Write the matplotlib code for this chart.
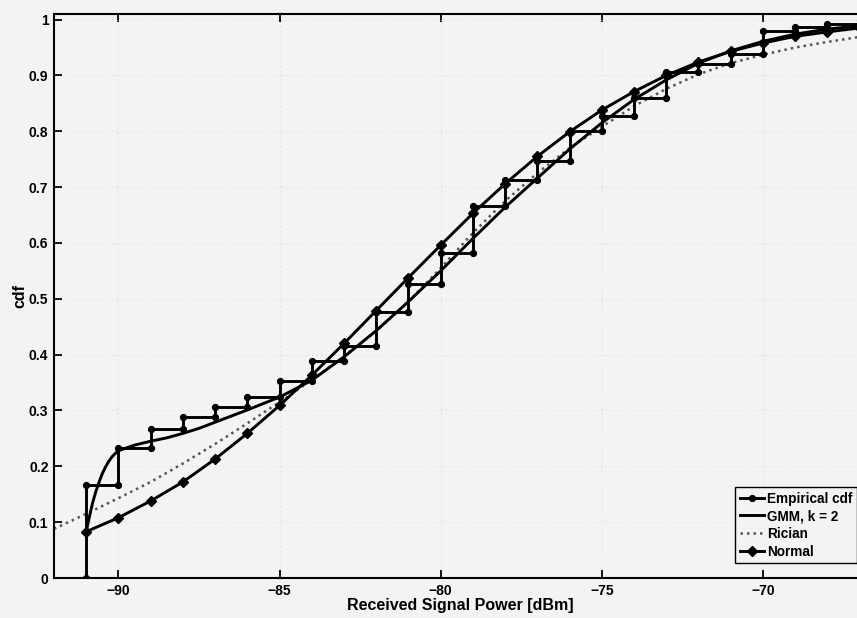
import numpy as np
import matplotlib
matplotlib.use("Agg")
import matplotlib.pyplot as plt

# Empirical cdf: jump positions (dBm) and the cdf level reached at each jump
emp_x = [-91, -90, -89, -88, -87, -86, -85, -84, -83, -82, -81, -80, -79,
         -78, -77, -76, -75, -74, -73, -72, -71, -70, -69, -68, -67]
emp_level = [0.167, 0.232, 0.267, 0.288, 0.306, 0.325, 0.352, 0.388, 0.416,
             0.476, 0.527, 0.582, 0.666, 0.713, 0.746, 0.801, 0.828, 0.859,
             0.906, 0.921, 0.938, 0.980, 0.986, 0.993, 1.000]

# Two-component Gaussian mixture fit
gmm_x = [-91.0, -90.9, -90.8, -90.7, -90.6, -90.5, -90.4, -90.3, -90.2, -90.1,
         -90.0, -89.5, -89.0, -88.5, -88.0, -87.5, -87.0, -86.5, -86.0, -85.0,
         -84.0, -83.0, -82.0, -81.0, -80.0, -79.0, -78.0, -77.0, -76.0, -75.0,
         -74.0, -73.0, -72.0, -71.0, -70.0, -69.0, -68.0, -67.0, -66.0]
gmm_y = [0.083, 0.110, 0.135, 0.155, 0.172, 0.187, 0.199, 0.209, 0.217, 0.223,
         0.228, 0.238, 0.245, 0.251, 0.259, 0.268, 0.279, 0.290, 0.301, 0.324,
         0.354, 0.396, 0.443, 0.495, 0.550, 0.608, 0.664, 0.716, 0.768, 0.815,
         0.857, 0.892, 0.922, 0.944, 0.961, 0.974, 0.983, 0.989, 0.993]

# Rician fit
rician_x = [-92, -91, -90, -89, -88, -87, -86, -85, -84, -83, -82, -81, -80,
            -79, -78, -77, -76, -75, -74, -73, -72, -71, -70, -69, -68, -67, -66]
rician_y = [0.088, 0.115, 0.143, 0.172, 0.205, 0.240, 0.277, 0.315, 0.355,
            0.397, 0.442, 0.495, 0.555, 0.618, 0.675, 0.725, 0.770, 0.808,
            0.845, 0.876, 0.902, 0.922, 0.937, 0.950, 0.960, 0.969, 0.975]

# Normal fit, evaluated at the integer power levels
normal_x = [-91, -90, -89, -88, -87, -86, -85, -84, -83, -82, -81, -80, -79,
            -78, -77, -76, -75, -74, -73, -72, -71, -70, -69, -68, -67]
normal_y = [0.083, 0.108, 0.138, 0.172, 0.213, 0.259, 0.309, 0.363, 0.420,
            0.479, 0.538, 0.596, 0.653, 0.706, 0.755, 0.799, 0.838, 0.871,
            0.900, 0.924, 0.943, 0.958, 0.970, 0.978, 0.985]

x_ticks = [-90, -85, -80, -75, -70]
y_ticks = [0, 0.1, 0.2, 0.3, 0.4, 0.5, 0.6, 0.7, 0.8, 0.9, 1.0]
y_tick_labels = ["0", "0.1", "0.2", "0.3", "0.4", "0.5", "0.6", "0.7", "0.8",
                 "0.9", "1"]
series_labels = ["Empirical cdf", "GMM, k = 2", "Rician", "Normal"]

plt.rcParams["font.family"] = ["Liberation Sans", "DejaVu Sans"]
plt.rcParams["font.weight"] = "bold"

bg = "#f3f3f3"
fig = plt.figure(figsize=(8.57, 6.18), dpi=100, facecolor=bg)
ax = fig.add_axes([0.063, 0.0647, 0.9475, 0.9126], facecolor=bg)

# staircase vertices of the empirical cdf
ex = np.asarray(emp_x, dtype=float)
el = np.asarray(emp_level, dtype=float)
stair_x = np.repeat(ex, 2)
stair_y = np.empty_like(stair_x)
stair_y[0::2] = np.concatenate(([0.0], el[:-1]))
stair_y[1::2] = el

ax.plot(stair_x, stair_y, color="black", lw=2.1, marker="o", ms=4.2,
        label=series_labels[0], zorder=4)
ax.plot(gmm_x, gmm_y, color="black", lw=2.1, label=series_labels[1], zorder=3)
ax.plot(rician_x, rician_y, color="#555555", lw=1.8, linestyle=(0, (1, 1.6)),
        label=series_labels[2], zorder=2)
ax.plot(normal_x, normal_y, color="black", lw=2.1, marker="D", ms=5,
        label=series_labels[3], zorder=3)

ax.set_xlim(-92, -66.8)
ax.set_ylim(0, 1.01)
ax.set_xticks(x_ticks)
ax.set_xticklabels([f"\u2212{abs(v)}" for v in x_ticks])
ax.set_yticks(y_ticks)
ax.set_yticklabels(y_tick_labels)
ax.tick_params(direction="in", length=6, width=1.3, top=True, right=False,
               labelsize=10, pad=4)
for lab in ax.get_xticklabels() + ax.get_yticklabels():
    lab.set_fontweight("bold")

ax.grid(True, color="#dcdcdc", linestyle=(0, (1, 3)), lw=0.8)
ax.set_axisbelow(True)
for s in ax.spines.values():
    s.set_linewidth(1.5)
    s.set_color("black")

ax.set_xlabel("Received Signal Power [dBm]", fontsize=11.5, fontweight="bold",
              labelpad=0)
ax.set_ylabel("cdf", fontsize=11.5, fontweight="bold", labelpad=1)

leg = ax.legend(loc="lower left", bbox_to_anchor=(0.8387, 0.026),
                fontsize=9.8, frameon=True, fancybox=False, handlelength=1.75,
                handletextpad=0.25, borderpad=0.35, labelspacing=0.27,
                borderaxespad=0)
leg.get_frame().set_edgecolor("black")
leg.get_frame().set_linewidth(1.0)
leg.get_frame().set_facecolor(bg)
leg.get_frame().set_alpha(1)
for t in leg.get_texts():
    t.set_fontweight("bold")

fig.savefig("out.png", dpi=100, facecolor=bg)
